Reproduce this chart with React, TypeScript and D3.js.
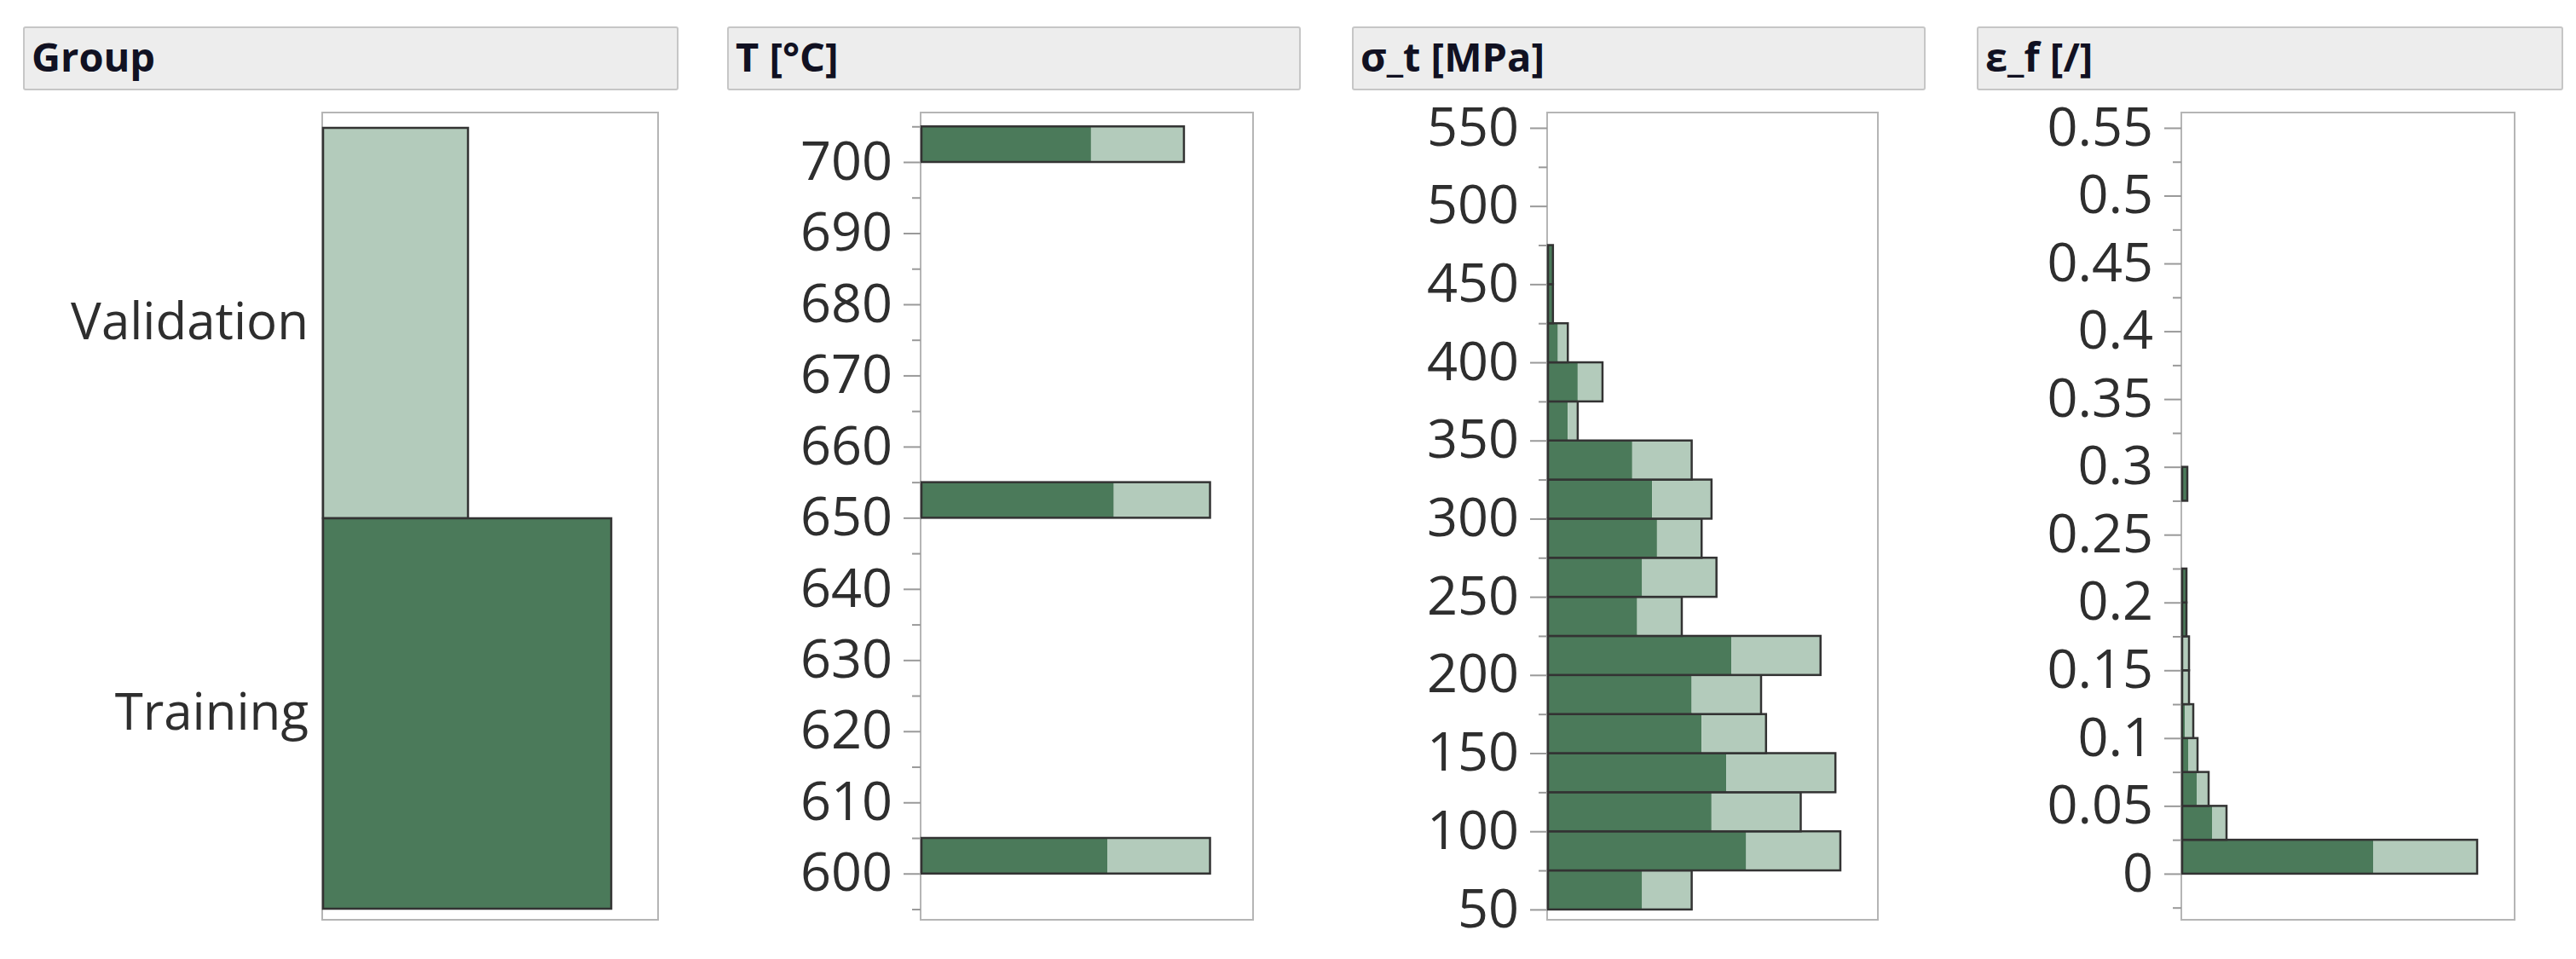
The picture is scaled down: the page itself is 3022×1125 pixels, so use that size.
import React, { useEffect, useRef } from "react";
import * as d3 from "d3";

// Group counts
const groupLabels = ["Validation", "Training"];
const groupCounts = [170, 338];

// T [°C] histogram (bin start, width 5)
const tempBins = [600, 650, 700];
const tempTraining = [114, 118, 104];
const tempValidation = [63, 59, 57];
const tempTicks = [600, 610, 620, 630, 640, 650, 660, 670, 680, 690, 700];
const tempMinor = [595, 605, 615, 625, 635, 645, 655, 665, 675, 685, 695, 705];

// σ_t [MPa] histogram (bin start, width 25)
const stressBins = [50, 75, 100, 125, 150, 175, 200, 225, 250, 275, 300, 325, 350, 375, 400, 425, 450];
const stressTraining = [19, 40, 33, 36, 31, 29, 37, 18, 19, 22, 21, 17, 4, 6, 2, 1, 1];
const stressValidation = [10, 19, 18, 22, 13, 14, 18, 9, 15, 9, 12, 12, 2, 5, 2, 0, 0];
const stressTicks = [50, 100, 150, 200, 250, 300, 350, 400, 450, 500, 550];
const stressMinor = [75, 125, 175, 225, 275, 325, 375, 425, 475, 525];

// ε_f [/] histogram (bin start, width 0.025)
const strainBins = [0, 0.025, 0.05, 0.075, 0.1, 0.125, 0.15, 0.175, 0.2, 0.225, 0.25, 0.275];
const strainTraining = [224, 35, 17, 7, 3, 1, 1, 5, 5, 0, 0, 6];
const strainValidation = [122, 17, 14, 11, 10, 7, 7, 0, 0, 0, 0, 0];
const strainTicks = [0, 0.05, 0.1, 0.15, 0.2, 0.25, 0.3, 0.35, 0.4, 0.45, 0.5, 0.55];
const strainMinor = [-0.025, 0.025, 0.075, 0.125, 0.175, 0.225, 0.275, 0.325, 0.375, 0.425, 0.475, 0.525];

const headerTitles = ["Group", "T [°C]", "σ_t [MPa]", "ε_f [/]"];

const DARK = "#4b7a5a";
const LIGHT = "#b3cbbb";
const OUTLINE = "#333333";
const FRAME = "#b5b5b5";
const FONT = "'Open Sans', 'Noto Sans', sans-serif";
const TOP = 132;
const BOTTOM = 1079;

const App = () => {
	const svgRef = useRef(null);

	useEffect(() => {
		const svg = d3.select(svgRef.current);
		svg.selectAll("*").remove();

		// header strips
		const headers = [
			{ x0: 28, x1: 795 },
			{ x0: 854, x1: 1525 },
			{ x0: 1587, x1: 2258 },
			{ x0: 2320, x1: 3006 },
		];
		const hg = svg.append("g");
		hg.selectAll("rect")
			.data(headers)
			.join("rect")
			.attr("x", (d) => d.x0)
			.attr("y", 32)
			.attr("width", (d) => d.x1 - d.x0)
			.attr("height", 73)
			.attr("rx", 2)
			.attr("fill", "#ededed")
			.attr("stroke", "#c6c6c6")
			.attr("stroke-width", 2);
		hg.selectAll("text")
			.data(headers)
			.join("text")
			.attr("x", (d) => d.x0 + 9)
			.attr("y", 84)
			.attr("font-family", FONT)
			.attr("font-weight", 700)
			.attr("font-size", 47)
			.attr("fill", "#111122")
			.text((d, i) => headerTitles[i]);

		// Group panel
		const gLeft = 378;
		const gWidth = 394;
		const gp = svg.append("g");
		gp.append("rect")
			.attr("x", gLeft)
			.attr("y", TOP)
			.attr("width", gWidth)
			.attr("height", BOTTOM - TOP)
			.attr("fill", "white")
			.attr("stroke", FRAME)
			.attr("stroke-width", 2);
		const gy = d3.scaleBand().domain(groupLabels).range([150, 1066]);
		const gx = d3
			.scaleLinear()
			.domain([0, d3.max(groupCounts) / 0.858])
			.range([gLeft, gLeft + gWidth]);
		gp.selectAll("rect.bar")
			.data(groupLabels)
			.join("rect")
			.attr("class", "bar")
			.attr("x", gx(0) + 1)
			.attr("y", (d) => gy(d))
			.attr("width", (d, i) => gx(groupCounts[i]) - gx(0))
			.attr("height", gy.bandwidth())
			.attr("fill", (d) => (d === "Training" ? DARK : LIGHT))
			.attr("stroke", OUTLINE)
			.attr("stroke-width", 2.5);
		gp.append("g")
			.attr("transform", `translate(${gLeft},0)`)
			.call(d3.axisLeft(gy).tickSize(0).tickPadding(16))
			.call((a) => a.select(".domain").remove())
			.selectAll("text")
			.attr("font-family", FONT)
			.attr("font-size", 60)
			.attr("fill", "#2e2e2e");

		const drawHist = (cfg) => {
			const { left, width, yDomain, bins, binWidth, train, valid, fill, ticks, minor, fmt } = cfg;
			const g = svg.append("g");
			const y = d3.scaleLinear().domain(yDomain).range([BOTTOM, TOP]);
			const totals = train.map((t, i) => t + valid[i]);
			const x = d3
				.scaleLinear()
				.domain([0, d3.max(totals) / fill])
				.range([left, left + width]);
			const rows = bins
				.map((b, i) => ({ b, t: train[i], v: valid[i] }))
				.filter((d) => d.t + d.v > 0);

			g.append("rect")
				.attr("x", left)
				.attr("y", TOP)
				.attr("width", width)
				.attr("height", BOTTOM - TOP)
				.attr("fill", "white")
				.attr("stroke", FRAME)
				.attr("stroke-width", 2);

			const bar = g.selectAll("g.bar").data(rows).join("g").attr("class", "bar");
			bar.append("rect")
				.attr("x", x(0) + 1)
				.attr("y", (d) => y(d.b + binWidth))
				.attr("width", (d) => x(d.t) - x(0))
				.attr("height", (d) => y(d.b) - y(d.b + binWidth))
				.attr("fill", DARK);
			bar.append("rect")
				.attr("x", (d) => x(d.t) + 1)
				.attr("y", (d) => y(d.b + binWidth))
				.attr("width", (d) => x(d.t + d.v) - x(d.t))
				.attr("height", (d) => y(d.b) - y(d.b + binWidth))
				.attr("fill", LIGHT);
			bar.append("rect")
				.attr("x", x(0) + 1)
				.attr("y", (d) => y(d.b + binWidth))
				.attr("width", (d) => x(d.t + d.v) - x(0))
				.attr("height", (d) => y(d.b) - y(d.b + binWidth))
				.attr("fill", "none")
				.attr("stroke", OUTLINE)
				.attr("stroke-width", 2.5);

			g.append("g")
				.attr("transform", `translate(${left},0)`)
				.call(d3.axisLeft(y).tickValues(minor).tickSize(10).tickFormat(() => ""))
				.call((a) => a.select(".domain").remove())
				.selectAll("line")
				.attr("stroke", "#9a9a9a")
				.attr("stroke-width", 2);
			const ax = g
				.append("g")
				.attr("transform", `translate(${left},0)`)
				.call(d3.axisLeft(y).tickValues(ticks).tickSize(20).tickPadding(13).tickFormat(fmt))
				.call((a) => a.select(".domain").remove());
			ax.selectAll("line").attr("stroke", "#9a9a9a").attr("stroke-width", 2);
			ax.selectAll("text")
				.attr("font-family", FONT)
				.attr("font-size", 63)
				.attr("fill", "#2e2e2e");
		};

		drawHist({
			left: 1080,
			width: 390,
			yDomain: [593.5, 706.95],
			bins: tempBins,
			binWidth: 5,
			train: tempTraining,
			valid: tempValidation,
			fill: 0.868,
			ticks: tempTicks,
			minor: tempMinor,
			fmt: (d) => String(d),
		});
		drawHist({
			left: 1815,
			width: 388,
			yDomain: [43.4, 559.8],
			bins: stressBins,
			binWidth: 25,
			train: stressTraining,
			valid: stressValidation,
			fill: 0.884,
			ticks: stressTicks,
			minor: stressMinor,
			fmt: (d) => String(d),
		});
		drawHist({
			left: 2559,
			width: 391,
			yDomain: [-0.034, 0.5613],
			bins: strainBins,
			binWidth: 0.025,
			train: strainTraining,
			valid: strainValidation,
			fill: 0.885,
			ticks: strainTicks,
			minor: strainMinor,
			fmt: (d) => String(+d.toFixed(3)),
		});
	}, []);

	return (
		<svg
			ref={svgRef}
			width="3022"
			height="1125"
			style={{ position: "absolute", left: 0, top: 0, background: "white" }}
		></svg>
	);
};

export default App;
